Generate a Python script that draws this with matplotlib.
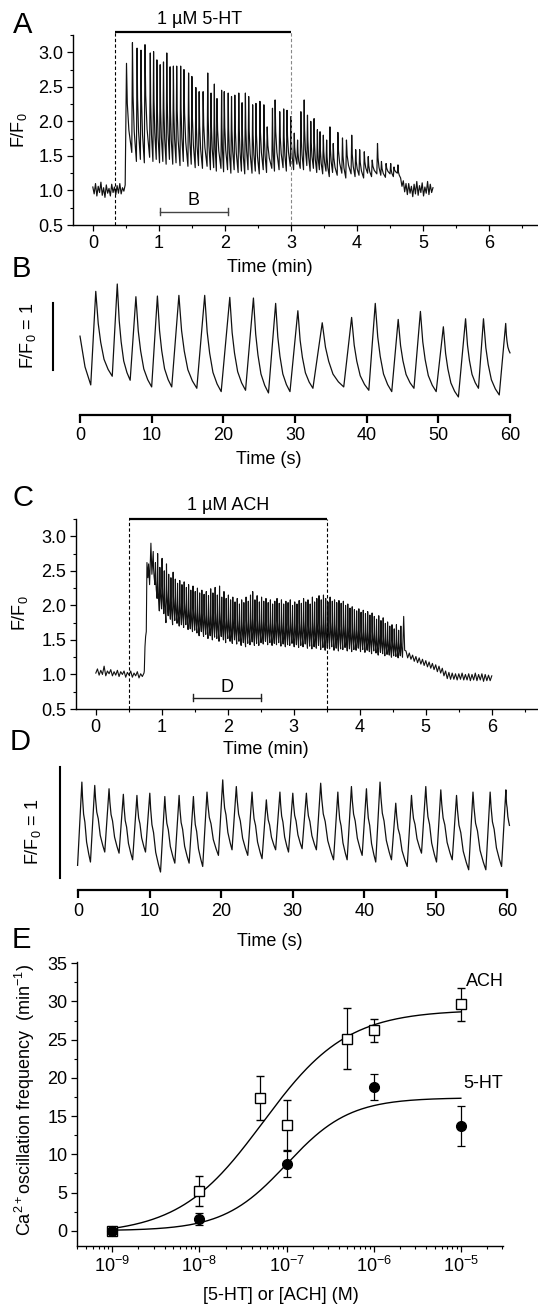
import numpy as np
import matplotlib
matplotlib.use('Agg')
import matplotlib.pyplot as plt
from matplotlib.ticker import MultipleLocator, LogLocator, NullFormatter, FixedLocator, FixedFormatter

plt.rcParams['font.family'] = ['Liberation Sans', 'DejaVu Sans']
plt.rcParams['mathtext.fontset'] = 'custom'
plt.rcParams['mathtext.rm'] = 'Liberation Sans'
plt.rcParams['mathtext.it'] = 'Liberation Sans:italic'
plt.rcParams['mathtext.bf'] = 'Liberation Sans:bold'

# ---------------- DATA ----------------
# Panel A (5-HT, time in min)
a_pre_v = [1.05, 0.95, 1.10, 0.92, 1.06, 0.97, 1.12, 0.93, 1.04, 0.90, 1.08, 0.96,
           1.03, 0.92, 1.09, 0.97, 1.05, 0.94, 1.07, 0.96, 1.10, 0.95, 1.04, 0.99]
a_rise_t = [0.49, 0.50]
a_rise_v = [1.08, 2.00]
a_peak_t = [0.51, 0.60, 0.67, 0.73, 0.79, 0.87, 0.92, 0.97, 1.02, 1.07,
            1.12, 1.17, 1.22, 1.27, 1.33, 1.38, 1.45, 1.50, 1.56, 1.61,
            1.67, 1.74, 1.79, 1.84, 1.88, 1.95, 1.99, 2.05, 2.10, 2.15,
            2.21, 2.26, 2.31, 2.36, 2.42, 2.47, 2.53, 2.59, 2.64, 2.72,
            2.76, 2.83, 2.89, 2.94, 3.00, 3.05, 3.10, 3.15, 3.20, 3.25,
            3.30, 3.35, 3.40, 3.44, 3.49, 3.54, 3.59, 3.64, 3.71, 3.78,
            3.84, 3.92, 3.98, 4.04, 4.11, 4.17, 4.23, 4.31, 4.37, 4.44,
            4.51, 4.56, 4.62]
a_peak_v = [2.84, 3.14, 3.06, 3.03, 3.11, 2.99, 3.01, 2.89, 2.82, 2.86,
            2.99, 2.79, 2.80, 2.80, 2.80, 2.75, 2.70, 2.65, 2.49, 2.43,
            2.43, 2.70, 2.41, 2.54, 2.33, 2.45, 2.43, 2.41, 2.36, 2.38,
            2.41, 2.27, 2.41, 2.36, 2.24, 2.26, 2.29, 2.24, 1.92, 2.19,
            2.31, 2.14, 2.18, 2.16, 2.07, 1.83, 1.73, 2.14, 2.31, 2.09,
            2.00, 2.04, 1.88, 1.85, 1.80, 1.73, 1.92, 1.68, 1.84, 1.76,
            1.73, 1.80, 1.59, 1.59, 1.56, 1.49, 1.44, 1.68, 1.42, 1.39,
            1.39, 1.34, 1.37]
a_trough_v = [1.55, 1.42, 1.45, 1.40, 1.48, 1.42, 1.45, 1.40, 1.42, 1.38,
              1.45, 1.38, 1.40, 1.36, 1.42, 1.35, 1.38, 1.33, 1.36, 1.32,
              1.35, 1.30, 1.33, 1.28, 1.32, 1.27, 1.30, 1.25, 1.30, 1.26,
              1.28, 1.24, 1.30, 1.25, 1.28, 1.24, 1.30, 1.26, 1.32, 1.28,
              1.30, 1.33, 1.28, 1.35, 1.30, 1.38, 1.32, 1.30, 1.36, 1.28,
              1.32, 1.26, 1.30, 1.24, 1.28, 1.20, 1.26, 1.22, 1.25, 1.18,
              1.24, 1.20, 1.22, 1.18, 1.25, 1.20, 1.24, 1.22, 1.19, 1.24,
              1.20, 1.25, 1.22]
a_post_v = [1.18, 1.06, 1.14, 0.98, 1.10, 0.94, 1.10, 0.96, 1.06, 0.91, 1.09, 0.95,
            1.13, 0.93, 1.07, 0.97, 1.11, 0.92, 1.05, 0.96, 1.13, 0.94, 1.09, 0.97, 1.04]
a_stim = [0.33, 3.0]
a_mark = [1.02, 2.04]

# Panel B (5-HT, 60 s window, F/F0)
b_start_t = [0.0, 0.7]
b_start_v = [2.16, 1.70]
b_peak_t = [2.2, 5.2, 7.8, 10.8, 13.8, 17.4, 20.9, 24.2, 27.3, 30.4,
            33.8, 37.9, 41.2, 44.4, 47.5, 50.7, 53.8, 56.3, 59.4]
b_peak_v = [2.83, 2.94, 2.75, 2.76, 2.77, 2.77, 2.74, 2.73, 2.65, 2.54,
            2.36, 2.44, 2.65, 2.41, 2.53, 2.30, 2.42, 2.42, 2.35]
b_trough_t = [1.5, 4.5, 7.0, 10.0, 12.8, 16.3, 19.7, 23.1, 26.3, 29.3,
              32.5, 36.8, 40.3, 43.5, 46.6, 49.7, 52.8, 55.6, 58.5]
b_trough_v = [1.43, 1.56, 1.50, 1.40, 1.40, 1.38, 1.33, 1.35, 1.31, 1.33,
              1.38, 1.40, 1.35, 1.33, 1.38, 1.33, 1.25, 1.38, 1.28]
b_end = (60.0, 1.91)

# Panel C (ACH, time in min)
c_pre_v = [1.02, 1.08, 0.99, 1.06, 1.00, 1.12, 0.98, 1.05, 1.01, 1.07,
           0.98, 1.04, 0.99, 1.06, 0.97, 1.04, 1.00, 1.05, 0.96, 1.03,
           0.99, 1.05, 0.96, 1.02, 0.98, 1.04, 0.95, 1.01, 0.97, 1.02]
c_rise_t = [0.735, 0.745, 0.755, 0.765, 0.775, 0.79, 0.80, 0.815, 0.835, 0.85]
c_rise_v = [1.05, 1.40, 1.55, 1.62, 2.62, 2.40, 2.60, 2.30, 2.90, 2.45]
c_first_peak = 0.87
c_period = 0.0335
c_peak_v = [2.78, 2.62, 2.75, 2.55,
            2.68, 2.50, 2.60, 2.45, 2.40, 2.48, 2.38, 2.32, 2.36, 2.30, 2.34, 2.26,
            2.30, 2.22, 2.28, 2.20, 2.25, 2.18, 2.22, 2.16, 2.20, 2.14, 2.24, 2.18,
            2.26, 2.15, 2.28, 2.12, 2.20, 2.10, 2.15, 2.08, 2.12, 2.05, 2.10, 2.02,
            2.08, 2.04, 2.12, 2.06, 2.15, 2.20, 2.08, 2.14, 2.05, 2.12, 2.06, 2.10,
            2.04, 2.08, 2.02, 2.06, 2.10, 2.03, 2.08, 2.02, 2.06, 2.04, 2.08, 2.00,
            2.05, 2.02, 2.07, 2.03, 2.10, 2.05, 2.08, 2.02, 2.12, 2.05, 2.10, 2.14,
            2.08, 2.15, 2.10, 2.05, 2.12, 2.06, 2.08, 2.04, 2.07, 2.03, 2.06, 2.00,
            2.02, 1.96, 1.98, 1.94, 1.92, 1.95, 1.90, 1.93, 1.88, 1.91, 1.86, 1.89,
            1.84, 1.80, 1.85, 1.78, 1.82, 1.74, 1.76, 1.70, 1.72, 1.66, 1.72, 1.64, 1.70]
c_trough_v = [2.30, 2.10, 1.92, 1.95,
              1.88, 1.75, 1.85, 1.80, 1.72, 1.78, 1.74, 1.70, 1.72, 1.68, 1.72, 1.65,
              1.66, 1.62, 1.64, 1.60, 1.56, 1.62, 1.55, 1.58, 1.52, 1.56, 1.50, 1.54,
              1.52, 1.48, 1.55, 1.50, 1.46, 1.52, 1.48, 1.45, 1.50, 1.44, 1.48, 1.42,
              1.46, 1.40, 1.45, 1.43, 1.47, 1.42, 1.45, 1.42, 1.46, 1.44, 1.48, 1.43,
              1.46, 1.42, 1.45, 1.43, 1.46, 1.41, 1.44, 1.40, 1.43, 1.42, 1.45, 1.40,
              1.43, 1.39, 1.42, 1.40, 1.44, 1.38, 1.41, 1.37, 1.40, 1.38, 1.42, 1.36,
              1.39, 1.35, 1.38, 1.37, 1.40, 1.35, 1.38, 1.34, 1.37, 1.36, 1.39, 1.34,
              1.37, 1.33, 1.36, 1.35, 1.38, 1.33, 1.36, 1.32, 1.35, 1.33, 1.30, 1.34,
              1.31, 1.28, 1.32, 1.30, 1.27, 1.29, 1.28, 1.25, 1.27, 1.26, 1.24, 1.27, 1.25]
c_spike_t = [4.665, 4.68]
c_spike_v = [1.84, 1.35]
c_post_v = [1.34, 1.24, 1.31, 1.22, 1.28, 1.19, 1.26, 1.17, 1.24, 1.15, 1.22, 1.13,
            1.20, 1.11, 1.18, 1.09, 1.16, 1.07, 1.14, 1.04, 1.12, 1.02, 1.09, 0.98,
            1.05, 0.94, 1.03, 0.93, 1.02, 0.93, 1.01, 0.92, 1.01, 0.93, 1.02, 0.92,
            1.00, 0.92, 1.01, 0.91, 1.00, 0.92, 1.02, 0.91, 1.00, 0.92, 1.01, 0.90,
            1.00, 0.91, 0.99, 0.91, 0.98]
c_stim = [0.5, 3.5]
c_mark = [1.47, 2.50]

# Panel D (ACH, 60 s window, F/F0)
d_start = (-0.1, 1.47)
d_peak_t = [0.5, 2.3, 4.3, 6.3, 8.2, 10.0, 12.1, 14.1, 16.1, 18.0,
            20.2, 22.1, 24.3, 26.3, 28.2, 30.0, 31.9, 33.9, 36.3, 38.2,
            40.3, 42.2, 44.4, 46.6, 48.6, 50.7, 52.9, 55.2, 57.6, 59.8]
d_peak_v = [2.22, 2.19, 2.16, 2.11, 2.10, 2.12, 2.09, 2.10, 2.09, 2.13,
            2.24, 2.18, 2.13, 2.06, 2.13, 2.12, 2.12, 2.21, 2.13, 2.18,
            2.16, 2.22, 2.03, 2.10, 2.18, 2.15, 2.10, 2.13, 2.13, 2.15]
d_trough_v = [1.50, 1.59, 1.58, 1.52, 1.59, 1.41, 1.49, 1.49, 1.46, 1.56,
              1.61, 1.56, 1.53, 1.61, 1.59, 1.62, 1.61, 1.52, 1.52, 1.56,
              1.50, 1.52, 1.46, 1.58, 1.50, 1.52, 1.43, 1.43, 1.46]
d_end = (60.3, 1.83)

# Panel E (concentration-response)
ach_conc = [1e-9, 1e-8, 5e-8, 1e-7, 5e-7, 1e-6, 1e-5]
ach_mean = [0.0, 5.2, 17.4, 13.8, 25.1, 26.2, 29.6]
ach_err = [0.0, 2.0, 2.9, 3.3, 4.0, 1.5, 2.1]
ht_conc = [1e-9, 1e-8, 1e-7, 1e-6, 1e-5]
ht_mean = [0.0, 1.5, 8.7, 18.8, 13.7]
ht_err = [0.0, 0.8, 1.7, 1.7, 2.6]
ach_fit = dict(bottom=-0.5, top=28.9, logec50=-7.27, hill=0.9)
ht_fit = dict(bottom=0.0, top=17.4, logec50=-7.0, hill=1.2)
e_xticks = [1e-9, 1e-8, 1e-7, 1e-6, 1e-5]
e_xticklabels = ['$10^{-9}$', '$10^{-8}$', '$10^{-7}$', '$10^{-6}$', '$10^{-5}$']

# ---------------- HELPERS ----------------
W, H = 538, 1305
fig = plt.figure(figsize=(W / 100, H / 100), dpi=100)
FS = 13
INK = '#111111'


def rect(l, t, r, b):
    return [l / W, 1 - b / H, (r - l) / W, (b - t) / H]


def ftext(x, y, s, **kw):
    kw.setdefault('fontsize', FS)
    kw.setdefault('ha', 'center')
    kw.setdefault('va', 'center')
    fig.text(x / W, 1 - y / H, s, **kw)


def cycles(peak_t, peak_v, trough_t, trough_v, fr, amp):
    ts, vs = [], []
    for pt, pv, tt, tv in zip(peak_t, peak_v, trough_t, trough_v):
        ts.append(pt); vs.append(pv)
        gap = tt - pt
        for f, a in zip(fr, amp):
            ts.append(pt + f * gap); vs.append(tv + a * (pv - tv))
        ts.append(tt); vs.append(tv)
    return ts, vs


def style_trace_axes(ax):
    for s in ('top', 'right'):
        ax.spines[s].set_visible(False)
    for s in ('left', 'bottom'):
        ax.spines[s].set_linewidth(1.0)
    ax.xaxis.set_major_locator(MultipleLocator(1))
    ax.xaxis.set_minor_locator(MultipleLocator(0.5))
    ax.yaxis.set_major_locator(MultipleLocator(0.5))
    ax.yaxis.set_minor_locator(MultipleLocator(0.25))
    ax.yaxis.set_major_formatter(matplotlib.ticker.FormatStrFormatter('%.1f'))
    ax.tick_params(which='major', direction='out', length=4, width=0.9, labelsize=FS, pad=3)
    ax.tick_params(which='minor', direction='out', length=2.2, width=0.8)


def style_scale_axes(ax):
    for s in ('top', 'right', 'left'):
        ax.spines[s].set_visible(False)
    ax.spines['bottom'].set_linewidth(1.6)
    ax.set_yticks([])
    ax.xaxis.set_major_locator(MultipleLocator(10))
    ax.tick_params(axis='x', direction='out', length=6, width=1.6, labelsize=FS, pad=3)


# ---------------- PANEL A ----------------
axA = fig.add_axes(rect(73, 35, 538, 225))
axA.set_xlim(-0.30, 6.74)
axA.set_ylim(0.5, 3.25)
style_trace_axes(axA)
pre_t = list(np.linspace(0.0, 0.47, len(a_pre_v)))
a_tr_t = [t - 0.01 for t in a_peak_t[1:]] + [a_peak_t[-1] + 0.02]
ct, cv = cycles(a_peak_t, a_peak_v, a_tr_t, a_trough_v, (0.15, 0.45), (0.55, 0.25))
post_t = list(np.linspace(a_tr_t[-1] + 0.02, 5.15, len(a_post_v)))
tA = pre_t + a_rise_t + ct + post_t
vA = list(a_pre_v) + a_rise_v + cv + list(a_post_v)
axA.plot(tA, vA, color=INK, lw=0.85)
axA.plot(a_stim, [3.30, 3.30], color='k', lw=1.6, clip_on=False, solid_capstyle='butt')
axA.plot([a_stim[0]] * 2, [0.5, 3.30], color='k', lw=0.8, ls=(0, (3, 2)), clip_on=False)
axA.plot([a_stim[1]] * 2, [0.5, 3.30], color='#888888', lw=0.8, ls=(0, (3, 2)), clip_on=False)
axA.plot(a_mark, [0.69, 0.69], color='#444444', lw=1.0)
for x in a_mark:
    axA.plot([x, x], [0.64, 0.74], color='#444444', lw=1.0)
axA.text(np.mean(a_mark), 0.86, 'B', ha='center', va='center', fontsize=FS)
ftext(200, 20, '1 µM 5-HT')
ftext(19, 130, 'F/F$_0$', rotation=90)
ftext(270, 267, 'Time (min)')

# ---------------- PANEL B ----------------
axB = fig.add_axes(rect(80, 280, 510, 415))
axB.set_xlim(0, 60)
axB.set_ylim(0.98, 3.0)
style_scale_axes(axB)
b_after_t = b_trough_t[1:] + [b_end[0]]
b_after_v = b_trough_v[1:] + [b_end[1]]
ct, cv = cycles(b_peak_t, b_peak_v, b_after_t, b_after_v,
                (0.06, 0.15, 0.3, 0.5, 0.75), (0.85, 0.62, 0.4, 0.2, 0.08))
tB = b_start_t + [b_trough_t[0]] + ct
vB = b_start_v + [b_trough_v[0]] + cv
axB.plot(tB, vB, color=INK, lw=0.9, clip_on=False)
axB.plot([-3.7, -3.7], [1.65, 2.66], color='k', lw=1.5, clip_on=False)
ftext(28, 336, 'F/F$_0$ = 1', rotation=90)
ftext(269, 460, 'Time (s)')

# ---------------- PANEL C ----------------
axC = fig.add_axes(rect(76, 519, 538, 709))
axC.set_xlim(-0.30, 6.70)
axC.set_ylim(0.5, 3.25)
style_trace_axes(axC)
c_peak_t = list(c_first_peak + c_period * np.arange(len(c_peak_v)))
c_tr_t = [t - 0.008 for t in c_peak_t[1:]] + [c_peak_t[-1] + 0.025]
ct, cv = cycles(c_peak_t, c_peak_v, c_tr_t, c_trough_v, (0.2, 0.5), (0.5, 0.25))
pre_t = list(np.linspace(0.0, 0.73, len(c_pre_v)))
post_t = list(np.linspace(4.70, 6.0, len(c_post_v)))
tC = pre_t + c_rise_t + ct + c_spike_t + post_t
vC = list(c_pre_v) + c_rise_v + cv + c_spike_v + list(c_post_v)
axC.plot(tC, vC, color=INK, lw=0.8)
axC.plot(c_stim, [3.25, 3.25], color='k', lw=1.6, clip_on=False, solid_capstyle='butt')
for x in c_stim:
    axC.plot([x, x], [0.5, 3.25], color='k', lw=0.8, ls=(0, (3, 2)), clip_on=False)
axC.plot(c_mark, [0.66, 0.66], color='#222222', lw=1.0)
for x in c_mark:
    axC.plot([x, x], [0.61, 0.71], color='#222222', lw=1.0)
axC.text(np.mean(c_mark), 0.81, 'D', ha='center', va='center', fontsize=FS)
ftext(228, 506, '1 µM ACH')
ftext(20, 613, 'F/F$_0$', rotation=90)
ftext(266, 750, 'Time (min)')

# ---------------- PANEL D ----------------
axD = fig.add_axes(rect(78.3, 765, 507.3, 890))
axD.set_xlim(0, 60)
axD.set_ylim(1.248, 2.374)
style_scale_axes(axD)
d_after_t = [t - 0.6 for t in d_peak_t[1:]] + [d_end[0]]
d_after_v = d_trough_v + [d_end[1]]
ct, cv = cycles(d_peak_t, d_peak_v, d_after_t, d_after_v,
                (0.08, 0.2, 0.35, 0.55, 0.8), (0.8, 0.6, 0.5, 0.25, 0.1))
tD = [d_start[0]] + ct
vD = [d_start[1]] + cv
axD.plot(tD, vD, color=INK, lw=0.9, clip_on=False)
axD.plot([-2.56, -2.56], [1.356, 2.356], color='k', lw=1.5, clip_on=False)
ftext(33, 832, 'F/F$_0$ = 1', rotation=90)
ftext(270, 942, 'Time (s)')

# ---------------- PANEL E ----------------
axE = fig.add_axes(rect(77.3, 961.7, 502.7, 1246))
axE.set_xscale('log')
axE.set_xlim(10 ** -9.4, 10 ** -4.52)
axE.set_ylim(-2.0, 35.2)
for s in ('top', 'right'):
    axE.spines[s].set_visible(False)
for s in ('left', 'bottom'):
    axE.spines[s].set_linewidth(1.0)
xx = np.logspace(-9, -5, 300)
for p in (ach_fit, ht_fit):
    yy = p['bottom'] + (p['top'] - p['bottom']) / (1 + 10 ** (p['hill'] * (p['logec50'] - np.log10(xx))))
    axE.plot(xx, yy, color='k', lw=1.0, zorder=2)
axE.errorbar(ach_conc, ach_mean, yerr=ach_err, fmt='s', ms=6.5, mfc='white', mec='k', mew=1.0,
             ecolor='k', elinewidth=0.9, capsize=3, capthick=0.9, zorder=4)
axE.errorbar(ht_conc, ht_mean, yerr=ht_err, fmt='o', ms=7, mfc='k', mec='k',
             ecolor='k', elinewidth=0.9, capsize=3, capthick=0.9, zorder=4)
axE.xaxis.set_major_locator(FixedLocator(e_xticks))
axE.xaxis.set_major_formatter(FixedFormatter(e_xticklabels))
axE.xaxis.set_minor_locator(LogLocator(base=10, subs=np.arange(2, 10), numticks=20))
axE.xaxis.set_minor_formatter(NullFormatter())
axE.yaxis.set_major_locator(MultipleLocator(5))
axE.yaxis.set_minor_locator(MultipleLocator(2.5))
axE.tick_params(which='major', direction='out', length=4, width=0.9, labelsize=FS, pad=3)
axE.tick_params(which='minor', direction='out', length=2.2, width=0.8)
axE.text(10 ** -4.94, 32.6, 'ACH', ha='left', va='center', fontsize=FS)
axE.text(10 ** -4.97, 19.3, '5-HT', ha='left', va='center', fontsize=FS)
ftext(25, 1100, 'Ca$^{2+}$oscillation frequency  (min$^{-1}$)', rotation=90)
ftext(281, 1295, '[5-HT] or [ACH] (M)')

# ---------------- PANEL LETTERS ----------------
for (x, y, s) in [(13, 33, 'A'), (12, 277, 'B'), (13, 506, 'C'), (10, 750, 'D'), (12, 948, 'E')]:
    fig.text(x / W, 1 - y / H, s, fontsize=21, ha='left', va='baseline')

fig.savefig('out.png', dpi=100)
